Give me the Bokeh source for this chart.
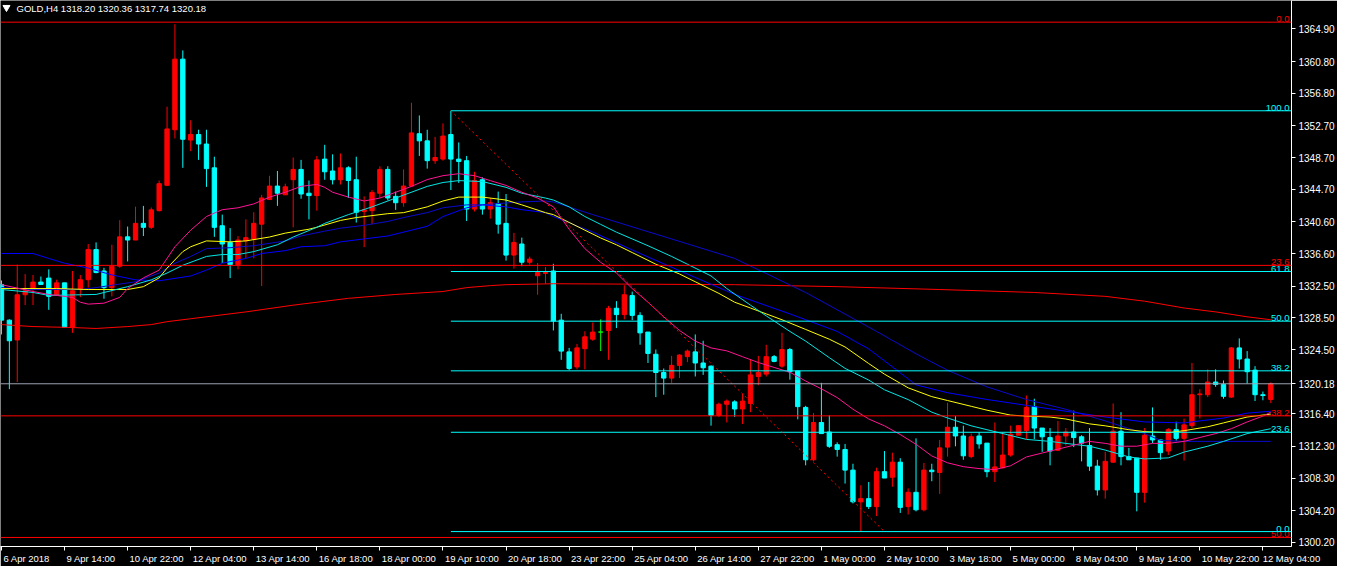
from bokeh.plotting import figure
from bokeh.models import (FixedTicker, PrintfTickFormatter, Span, Label,
                          Range1d, ColumnDataSource)
from bokeh.embed import file_html
from bokeh.resources import INLINE
from bokeh.core.properties import value

# ---------------- data (GOLD, H4) ----------------
opens = [1332.7, 1328.2, 1325.7, 1331.4, 1332.1, 1333.0, 1333.5, 1331.4, 1332.9, 1327.3,
         1332.1, 1333.3, 1337.1, 1334.4, 1332.3, 1335.0, 1338.7, 1338.3, 1340.4, 1339.9,
         1342.0, 1345.2, 1352.2, 1361.1, 1350.9, 1351.6, 1350.4, 1347.4, 1340.1, 1338.0,
         1335.2, 1338.2, 1338.4, 1340.3, 1343.4, 1345.1, 1344.0, 1345.9, 1347.2, 1344.2,
         1343.9, 1348.5, 1347.0, 1345.9, 1347.4, 1345.9, 1341.9, 1342.0, 1344.2, 1347.2,
         1343.8, 1343.0, 1345.1, 1351.7, 1350.8, 1348.3, 1348.5, 1351.6, 1348.5, 1348.3,
         1342.2, 1345.9, 1342.2, 1342.9, 1340.4, 1336.4, 1337.8, 1335.5, 1333.8, 1334.1,
         1334.4, 1328.2, 1324.2, 1322.3, 1324.6, 1325.8, 1326.7, 1326.9, 1329.7, 1328.9,
         1331.3, 1328.8, 1326.7, 1323.9, 1321.6, 1320.9, 1322.5, 1323.6, 1324.2, 1322.8,
         1322.4, 1316.2, 1317.6, 1317.9, 1317.0, 1317.7, 1321.1, 1321.4, 1323.6, 1322.4,
         1324.5, 1321.8, 1317.2, 1310.6, 1315.3, 1314.1, 1312.5, 1311.9, 1309.3, 1305.3,
         1305.7, 1304.7, 1309.1, 1308.4, 1310.3, 1304.7, 1306.5, 1304.3, 1309.3, 1309.0,
         1312.2, 1314.7, 1313.6, 1311.0, 1313.6, 1312.7, 1309.1, 1309.6, 1311.2, 1313.7,
         1314.3, 1317.3, 1314.6, 1313.4, 1311.8, 1313.6, 1314.1, 1313.5, 1312.4, 1309.8,
         1306.8, 1310.3, 1314.2, 1311.0, 1310.8, 1306.5, 1313.6, 1313.1, 1311.7, 1314.4,
         1313.3, 1314.9, 1318.8, 1318.8, 1320.4, 1320.1, 1318.5, 1324.7, 1323.3, 1321.9,
         1318.8, 1318.20]
highs = [1333.2, 1328.3, 1335.2, 1334.0, 1333.9, 1333.7, 1334.6, 1333.3, 1332.9, 1334.4,
         1333.9, 1337.8, 1338.0, 1334.8, 1337.7, 1340.8, 1340.0, 1342.5, 1342.6, 1342.4,
         1345.8, 1355.1, 1365.5, 1362.2, 1353.4, 1352.2, 1352.2, 1348.8, 1341.5, 1339.8,
         1338.8, 1340.9, 1341.8, 1344.0, 1346.4, 1347.0, 1345.4, 1348.7, 1348.4, 1345.8,
         1348.9, 1350.3, 1349.1, 1349.2, 1347.6, 1348.8, 1343.8, 1344.6, 1347.6, 1347.6,
         1344.4, 1347.2, 1355.6, 1354.0, 1352.2, 1351.3, 1353.0, 1354.6, 1350.6, 1348.9,
         1346.9, 1346.2, 1343.6, 1344.4, 1344.1, 1339.2, 1338.6, 1336.2, 1335.4, 1334.9,
         1335.3, 1329.0, 1324.7, 1325.2, 1326.8, 1327.9, 1328.3, 1330.0, 1330.6, 1332.6,
         1331.8, 1329.2, 1326.7, 1324.5, 1322.1, 1323.7, 1323.9, 1324.5, 1326.4, 1325.6,
         1322.5, 1317.8, 1318.2, 1318.1, 1318.9, 1323.3, 1323.7, 1325.1, 1323.8, 1326.6,
         1324.7, 1321.8, 1317.4, 1316.5, 1320.3, 1316.2, 1312.8, 1312.6, 1310.1, 1307.4,
         1307.8, 1309.6, 1311.7, 1311.5, 1310.8, 1307.0, 1313.3, 1310.2, 1310.1, 1313.1,
         1317.8, 1316.1, 1314.9, 1313.9, 1314.1, 1312.7, 1315.3, 1314.1, 1314.9, 1314.9,
         1318.7, 1318.3, 1314.6, 1314.6, 1315.5, 1314.6, 1316.8, 1313.7, 1314.6, 1310.6,
         1311.6, 1317.7, 1316.6, 1312.1, 1310.8, 1314.6, 1317.2, 1313.1, 1314.6, 1315.4,
         1315.8, 1322.8, 1319.5, 1322.0, 1322.0, 1320.6, 1324.8, 1325.9, 1324.3, 1322.4,
         1319.2, 1320.36]
lows = [1326.4, 1319.5, 1320.4, 1330.1, 1330.1, 1332.7, 1329.5, 1331.3, 1327.3, 1326.6,
        1331.1, 1332.3, 1334.1, 1330.9, 1331.2, 1334.8, 1335.6, 1338.3, 1338.8, 1339.7,
        1341.9, 1345.1, 1351.1, 1347.4, 1349.5, 1348.4, 1345.0, 1338.7, 1335.4, 1333.5,
        1334.6, 1336.0, 1336.0, 1332.5, 1343.4, 1342.6, 1344.0, 1339.9, 1343.5, 1340.9,
        1342.0, 1345.9, 1345.3, 1345.3, 1343.6, 1340.5, 1337.4, 1340.3, 1343.6, 1343.3,
        1342.1, 1342.5, 1345.0, 1348.9, 1347.3, 1347.9, 1348.3, 1344.6, 1345.5, 1340.7,
        1341.9, 1341.5, 1341.0, 1339.1, 1335.7, 1334.7, 1335.0, 1335.2, 1331.4, 1332.8,
        1326.9, 1323.2, 1321.9, 1322.0, 1322.0, 1325.6, 1324.3, 1323.2, 1327.2, 1328.3,
        1328.2, 1325.1, 1322.8, 1318.5, 1318.8, 1320.3, 1320.9, 1322.9, 1321.1, 1321.3,
        1314.9, 1316.0, 1315.3, 1316.0, 1315.1, 1316.6, 1320.0, 1321.1, 1322.9, 1322.2,
        1320.7, 1315.7, 1309.9, 1310.4, 1313.9, 1312.1, 1311.0, 1307.6, 1305.1, 1301.5,
        1304.4, 1303.5, 1308.3, 1307.2, 1303.9, 1303.7, 1304.1, 1304.1, 1307.9, 1306.3,
        1311.0, 1312.3, 1310.6, 1310.8, 1312.0, 1308.4, 1307.8, 1309.5, 1311.0, 1313.7,
        1313.2, 1313.2, 1311.6, 1309.9, 1311.7, 1312.4, 1312.2, 1310.4, 1309.2, 1306.1,
        1305.7, 1310.2, 1309.9, 1310.6, 1304.1, 1305.2, 1312.7, 1310.6, 1311.2, 1313.0,
        1310.5, 1314.6, 1315.8, 1318.5, 1319.8, 1318.3, 1318.4, 1322.1, 1320.2, 1318.0,
        1318.1, 1317.74]
closes = [1328.2, 1325.6, 1331.4, 1331.9, 1333.0, 1332.7, 1331.2, 1332.9, 1327.3, 1331.9,
          1333.3, 1337.1, 1334.2, 1332.3, 1335.0, 1338.7, 1338.3, 1340.4, 1339.9, 1342.1,
          1345.4, 1352.3, 1361.1, 1351.0, 1351.6, 1350.4, 1347.3, 1339.9, 1337.8, 1335.2,
          1338.3, 1338.6, 1340.4, 1343.6, 1345.1, 1344.2, 1345.0, 1347.2, 1344.1, 1343.9,
          1348.4, 1346.9, 1345.9, 1347.4, 1345.8, 1341.8, 1342.1, 1344.3, 1347.2, 1343.6,
          1343.0, 1345.1, 1351.8, 1350.8, 1348.3, 1348.7, 1351.4, 1348.5, 1348.2, 1342.2,
          1345.8, 1342.2, 1343.0, 1340.3, 1336.4, 1338.0, 1335.5, 1335.9, 1334.2, 1334.2,
          1328.1, 1324.3, 1322.1, 1324.7, 1326.1, 1326.7, 1326.7, 1329.7, 1328.9, 1331.4,
          1328.8, 1326.6, 1324.0, 1321.6, 1320.9, 1322.5, 1323.8, 1324.3, 1322.8, 1322.2,
          1316.2, 1317.6, 1318.0, 1317.0, 1318.0, 1321.3, 1321.6, 1323.6, 1323.0, 1324.5,
          1321.7, 1317.3, 1310.6, 1315.3, 1313.9, 1312.3, 1311.9, 1309.3, 1305.3, 1305.7,
          1304.7, 1309.1, 1308.3, 1310.3, 1304.6, 1306.5, 1304.3, 1309.3, 1309.1, 1312.1,
          1314.7, 1313.6, 1311.1, 1313.5, 1312.6, 1309.1, 1309.7, 1311.2, 1313.8, 1314.9,
          1317.2, 1314.6, 1313.5, 1311.7, 1313.6, 1314.1, 1313.4, 1312.7, 1309.8, 1306.8,
          1310.4, 1314.2, 1311.0, 1310.6, 1306.5, 1313.7, 1313.1, 1311.5, 1314.4, 1313.3,
          1315.0, 1318.8, 1318.9, 1320.4, 1320.1, 1318.6, 1324.7, 1323.3, 1321.7, 1318.8,
          1318.7, 1320.18]

# moving averages (bar index, value)
pink_idx = [0, 4, 6, 9, 10, 11, 13, 15, 16, 18, 20, 22, 24, 26, 28, 30, 32, 34, 36, 38,
            40, 41, 42, 44, 46, 48, 50, 52, 54, 56, 58, 60, 62, 64, 66, 68, 70, 72, 74, 76,
            78, 80, 82, 84, 86, 88, 90, 92, 94, 96, 98, 100, 102, 104, 106, 108, 110, 112,
            114, 116, 118, 120, 122, 124, 126, 128, 130, 132, 134, 136, 138, 140, 142, 144,
            146, 148, 150, 152, 154, 156, 158, 160, 161]
pink_val = [1332.67, 1331.81, 1331.44, 1331.07, 1330.46, 1330.22, 1330.34, 1331.07, 1332.18, 1333.53,
            1334.51, 1337.45, 1339.54, 1341.26, 1342.12, 1342.36, 1342.85, 1343.71, 1344.32, 1345.06,
            1345.31, 1344.94, 1344.32, 1343.71, 1343.22, 1343.59, 1344.32, 1345.06, 1345.92, 1346.41,
            1346.66, 1346.41, 1345.79, 1345.18, 1344.32, 1343.59, 1342.49, 1339.66, 1337.21, 1335.49,
            1334.14, 1332.18, 1330.46, 1328.62, 1326.90, 1325.56, 1324.70, 1324.33, 1323.59, 1322.86,
            1322.24, 1321.63, 1320.53, 1319.54, 1318.44, 1316.97, 1315.74, 1314.88, 1313.78, 1312.55,
            1311.08, 1310.22, 1309.73, 1309.49, 1309.36, 1309.85, 1310.96, 1311.45, 1311.94, 1312.43,
            1312.92, 1312.67, 1312.31, 1312.31, 1312.67, 1312.67, 1312.92, 1313.41, 1313.90, 1314.52,
            1315.37, 1316.11, 1316.60]
cyan_idx = [0, 4, 6, 12, 16, 19, 21, 23, 26, 28, 30, 32, 35, 37, 40, 41, 44, 47, 49, 51,
            54, 56, 58, 61, 64, 66, 69, 70, 72, 74, 76, 78, 80, 82, 85, 87, 90, 92, 95, 97,
            100, 102, 105, 107, 110, 112, 115, 118, 120, 123, 125, 128, 130, 133, 135, 138,
            140, 143, 145, 148, 150, 153, 155, 158, 161]
cyan_val = [1332.06, 1331.69, 1331.32, 1331.44, 1332.42, 1333.28, 1334.14, 1335.12, 1336.23, 1336.47,
            1336.47, 1336.84, 1337.70, 1338.68, 1339.91, 1340.40, 1341.50, 1342.48, 1343.22, 1343.96,
            1345.06, 1345.55, 1345.79, 1345.67, 1344.94, 1344.20, 1343.59, 1343.34, 1342.48, 1341.26,
            1340.27, 1339.29, 1338.44, 1337.58, 1336.23, 1335.25, 1333.77, 1332.18, 1330.09, 1328.74,
            1326.78, 1325.56, 1323.47, 1322.12, 1320.65, 1319.42, 1318.19, 1316.60, 1315.87, 1314.88,
            1314.39, 1313.66, 1313.17, 1312.92, 1312.67, 1312.31, 1311.82, 1310.96, 1310.71, 1310.84,
            1311.57, 1312.31, 1312.92, 1313.90, 1314.52]
yellow_idx = [0, 7, 11, 16, 18, 20, 21, 23, 24, 26, 29, 31, 34, 36, 39, 40, 43, 45, 49, 51,
              54, 56, 58, 61, 64, 66, 69, 70, 72, 74, 76, 78, 80, 83, 86, 88, 91, 93, 95, 97,
              99, 102, 105, 107, 110, 112, 115, 118, 120, 123, 125, 128, 130, 133, 135, 138,
              140, 143, 145, 148, 150, 153, 155, 158, 161]
yellow_val = [1332.18, 1332.18, 1332.06, 1332.06, 1332.42, 1333.53, 1334.76, 1336.84, 1337.45, 1338.19,
              1338.07, 1338.19, 1338.68, 1339.17, 1339.66, 1339.91, 1340.77, 1341.13, 1341.62, 1341.75,
              1342.48, 1343.22, 1343.71, 1343.71, 1343.34, 1342.73, 1341.75, 1341.50, 1340.52, 1339.54,
              1338.56, 1337.70, 1336.72, 1335.25, 1334.02, 1333.04, 1331.57, 1330.46, 1329.73, 1328.99,
              1328.25, 1327.03, 1325.80, 1324.82, 1322.73, 1321.39, 1319.67, 1318.56, 1318.07, 1317.34,
              1316.85, 1316.23, 1316.11, 1315.99, 1315.74, 1315.13, 1314.88, 1314.39, 1314.15, 1314.02,
              1314.27, 1314.76, 1315.25, 1315.99, 1316.36]
blueA_idx = [0, 4, 6, 8, 11, 14, 17, 20, 24, 26, 28, 31, 33, 36, 38, 41, 43, 46, 49, 51,
             54, 56, 59, 61, 64, 66, 69, 70, 75, 81, 87, 93, 100, 106, 110, 116, 120, 125, 130,
             135, 140, 145, 150, 152, 155, 158, 161]
blueA_val = [1336.60, 1336.60, 1335.98, 1335.37, 1334.76, 1333.90, 1333.28, 1333.16, 1333.77, 1334.51,
             1335.37, 1335.98, 1336.60, 1336.96, 1337.45, 1337.58, 1338.07, 1338.44, 1338.81, 1339.30,
             1340.03, 1341.26, 1342.36, 1342.73, 1342.48, 1342.12, 1341.75, 1341.26, 1339.30, 1336.60,
             1334.00, 1331.44, 1328.99, 1326.78, 1324.57, 1320.04, 1319.05, 1318.20, 1317.46, 1316.72,
             1315.99, 1315.37, 1315.25, 1315.50, 1315.86, 1316.48, 1316.72]
blueB_idx = [0, 4, 10, 12, 17, 20, 22, 24, 26, 29, 32, 36, 38, 41, 43, 46, 49, 51, 54, 56,
             59, 61, 64, 66, 69, 70, 75, 81, 87, 93, 102, 111, 116, 120, 125, 130, 135, 140,
             145, 147, 150, 161]
blueB_val = [1332.30, 1332.06, 1332.06, 1332.30, 1333.04, 1334.14, 1335.37, 1336.23, 1337.21, 1337.33,
             1337.58, 1338.19, 1338.81, 1339.42, 1339.79, 1340.15, 1340.64, 1341.13, 1341.75, 1342.36,
             1342.73, 1342.73, 1342.97, 1343.10, 1343.22, 1343.10, 1341.50, 1339.66, 1337.82, 1335.98,
             1331.69, 1326.78, 1323.96, 1321.88, 1319.79, 1318.20, 1316.97, 1315.50, 1313.90, 1313.04,
             1312.92, 1312.92]
red_idx = [0, 4, 9, 12, 16, 19, 21, 24, 31, 37, 44, 50, 56, 59, 62, 64, 70, 93, 106, 119,
           131, 140, 145, 150, 154, 158, 161]
red_val = [1327.64, 1327.39, 1327.27, 1327.15, 1327.39, 1327.64, 1328.01, 1328.38, 1329.24, 1330.09,
           1330.95, 1331.44, 1331.81, 1332.30, 1332.55, 1332.67, 1332.79, 1332.67, 1332.42, 1332.06,
           1331.69, 1331.20, 1330.59, 1329.73, 1329.24, 1328.62, 1328.25]

# Fibonacci retracements
red_fib_ratios = [0.0, 23.6, 38.2, 50.0]
red_fib_top = 1365.76
red_fib_bottom = 1235.86
cyan_fib_ratios = [0.0, 23.6, 38.2, 50.0, 61.8, 100.0]
cyan_fib_start_bar = 57
cyan_fib_end_bar = 112
cyan_fib_high = 1354.59
cyan_fib_low = 1301.55

# axes
price_ticks = [1364.90, 1360.80, 1356.80, 1352.70, 1348.70, 1344.70, 1340.60, 1336.60,
               1332.50, 1328.50, 1324.50, 1316.40, 1312.30, 1308.30, 1304.20, 1300.20]
date_ticks = [0, 8, 16, 24, 32, 40, 48, 56, 64, 72, 80, 88, 96, 104, 112, 120, 128, 136,
              144, 152, 160]
date_labels = ["6 Apr 2018", "9 Apr 14:00", "10 Apr 22:00", "12 Apr 04:00", "13 Apr 14:00",
               "16 Apr 18:00", "18 Apr 00:00", "19 Apr 10:00", "20 Apr 18:00", "23 Apr 22:00",
               "25 Apr 04:00", "26 Apr 14:00", "27 Apr 22:00", "1 May 00:00", "2 May 10:00",
               "3 May 18:00", "5 May 00:00", "8 May 04:00", "9 May 14:00", "10 May 22:00",
               "12 May 04:00"]
symbol = "GOLD,H4"

# ---------------- styling ----------------
FONT = "Liberation Sans"
FS = "9.5px"
FS_PRICE = "10px"
UP = "#FF0000"
DOWN = "#00FFFF"
DOJI = "#00FF00"

W, H = 1337, 566
X0, X1 = -0.125, 163.625
Y0, Y1 = 1299.67, 1368.49
RIGHT_AXIS_PX = 43.5
BOTTOM_AXIS_PX = 19

p = figure(width=W, height=H, x_range=Range1d(X0, X1), y_range=Range1d(Y0, Y1),
           y_axis_location="right", output_backend="svg", toolbar_location=None,
           min_border_left=0, min_border_top=0, min_border_right=0,
           min_border_bottom=BOTTOM_AXIS_PX,
           background_fill_color="black", border_fill_color="black",
           outline_line_color=None)
p.grid.visible = False

# right price axis (the current price is shown as an extra tick)
last_close = closes[-1]
yax = p.yaxis[0]
yax.ticker = FixedTicker(ticks=price_ticks + [last_close])
yax.formatter = PrintfTickFormatter(format="%.2f")
yax.axis_line_color = "white"
yax.major_tick_line_color = "white"
yax.minor_tick_line_color = None
yax.major_tick_out = 4
yax.major_tick_in = 0
yax.major_label_standoff = 3
yax.major_label_text_color = "white"
yax.major_label_text_font = FONT
yax.major_label_text_font_size = FS_PRICE

# bottom time axis: tick marks at the bars (minor ticks), labels left-aligned after them
px_per_bar = (W - RIGHT_AXIS_PX) / (X1 - X0)
CW = {d: 0.556 for d in "0123456789"}
CW.update({" ": 0.278, ":": 0.278, "A": 0.667, "p": 0.556, "r": 0.333, "M": 0.833,
           "a": 0.556, "y": 0.5})


def text_px(s, size=9.5):
    return sum(CW.get(ch, 0.556) for ch in s) * size


label_centers = [round(min(t + (text_px(s) / 2 + 2) / px_per_bar, X1 - 0.01), 3)
                 for t, s in zip(date_ticks, date_labels)]
xax = p.xaxis[0]
xax.ticker = FixedTicker(ticks=label_centers, minor_ticks=date_ticks)
xax.major_label_overrides = {c: s for c, s in zip(label_centers, date_labels)}
xax.axis_line_color = "white"
xax.major_tick_line_color = None
xax.major_tick_out = 3
xax.major_tick_in = 0
xax.minor_tick_line_color = "white"
xax.minor_tick_out = 4
xax.minor_tick_in = 0
xax.major_label_standoff = 2
xax.major_label_text_color = "white"
xax.major_label_text_font = FONT
xax.major_label_text_font_size = FS

# candles
n = len(closes)
xs = list(range(n))
colors = [UP if c > o else (DOWN if c < o else DOJI) for o, c in zip(opens, closes)]
src = ColumnDataSource(dict(x=xs, o=opens, h=highs, l=lows, c=closes, color=colors,
                            top=[max(o, c) for o, c in zip(opens, closes)],
                            bottom=[min(o, c) for o, c in zip(opens, closes)]))
p.segment(x0="x", y0="l", x1="x", y1="h", color="color", line_width=1, source=src)
p.vbar(x="x", width=0.55, top="top", bottom="bottom", fill_color="color",
       line_color="color", line_width=1, source=src)

# moving averages
p.line(red_idx, red_val, color="#FF0000", line_width=1)
p.line(blueB_idx, blueB_val, color="#0A0ACD", line_width=1)
p.line(blueA_idx, blueA_val, color="#0000FF", line_width=1)
p.line(yellow_idx, yellow_val, color="#FFFF00", line_width=1)
p.line(cyan_idx, cyan_val, color="#00E5E5", line_width=1)
p.line(pink_idx, pink_val, color="#FF1493", line_width=1)

# bid line
p.add_layout(Span(location=last_close, dimension="width", line_color="#9AA3B2", line_width=1))

# red fibonacci (full width)
red_levels = [red_fib_top - r / 100.0 * (red_fib_top - red_fib_bottom) for r in red_fib_ratios]
for lv in red_levels:
    p.add_layout(Span(location=lv, dimension="width", line_color="#FF0000", line_width=1))
p.text(x=[X1] * len(red_levels), y=red_levels, text=[f"{r:.1f}" for r in red_fib_ratios],
       text_align="right", text_baseline="bottom", x_offset=-2, y_offset=0,
       text_color="#FF0000", text_font=value(FONT), text_font_size=FS)

# cyan fibonacci (from the swing high to the right)
cyan_levels = [cyan_fib_low + r / 100.0 * (cyan_fib_high - cyan_fib_low) for r in cyan_fib_ratios]
p.ray(x=[cyan_fib_start_bar] * len(cyan_levels), y=cyan_levels, length=0, angle=0,
      color="#00FFFF", line_width=1)
p.text(x=[X1] * len(cyan_levels), y=cyan_levels, text=[f"{r:.1f}" for r in cyan_fib_ratios],
       text_align="right", text_baseline="bottom", x_offset=-2, y_offset=0,
       text_color="#00FFFF", text_font=value(FONT), text_font_size=FS)
p.line([cyan_fib_start_bar, cyan_fib_end_bar], [cyan_fib_high, cyan_fib_low],
       color="#FF0000", line_width=1, line_dash="2 3")

# header
px_per_price = (H - BOTTOM_AXIS_PX) / (Y1 - Y0)
p.scatter(x=[X0 + 6 / px_per_bar], y=[Y1 - 7 / px_per_price], marker="inverted_triangle",
          size=7, color="white")
header = f"{symbol}  {opens[-1]:.2f} {highs[-1]:.2f} {lows[-1]:.2f} {closes[-1]:.2f}"
p.add_layout(Label(x=16, y=Y1, x_units="screen", y_units="data", y_offset=-2,
                   text=header, text_align="left", text_baseline="top",
                   text_color="white", text_font=FONT, text_font_size=FS))

open("out.html", "w").write(file_html(p, INLINE))
